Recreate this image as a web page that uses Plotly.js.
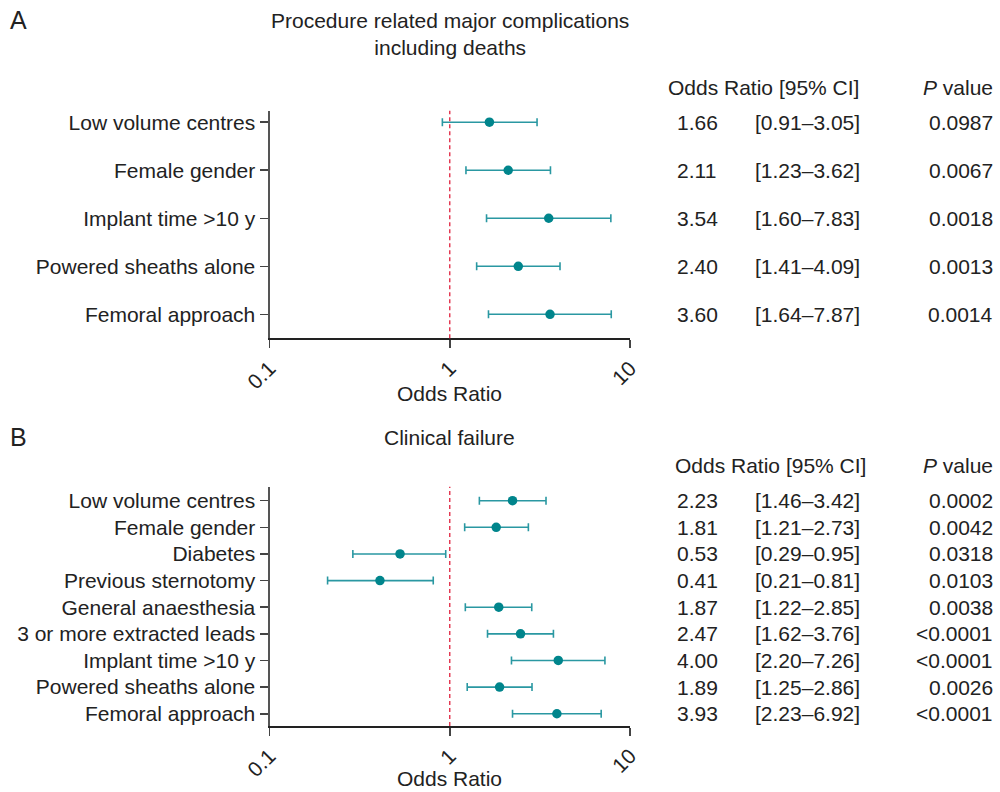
<!DOCTYPE html>
<html>
<head>
<meta charset="utf-8">
<script src="https://cdn.plot.ly/plotly-3.0.1.min.js"></script>
<style>html,body{margin:0;padding:0;background:#fff;}#chart{width:1000px;height:792px;}</style>
</head>
<body>
<div id="chart"></div>
<script>
// ---- Panel A data ----
const labelsA = ["Low volume centres", "Female gender", "Implant time >10 y", "Powered sheaths alone", "Femoral approach"];
const orA = [1.66, 2.11, 3.54, 2.40, 3.60];
const loA = [0.91, 1.23, 1.60, 1.41, 1.64];
const hiA = [3.05, 3.62, 7.83, 4.09, 7.87];
const pA = ["0.0987", "0.0067", "0.0018", "0.0013", "0.0014"];

// ---- Panel B data ----
const labelsB = ["Low volume centres", "Female gender", "Diabetes", "Previous sternotomy", "General anaesthesia",
  "3 or more extracted leads", "Implant time >10 y", "Powered sheaths alone", "Femoral approach"];
const orB = [2.23, 1.81, 0.53, 0.41, 1.87, 2.47, 4.00, 1.89, 3.93];
const loB = [1.46, 1.21, 0.29, 0.21, 1.22, 1.62, 2.20, 1.25, 2.23];
const hiB = [3.42, 2.73, 0.95, 0.81, 2.85, 3.76, 7.26, 2.86, 6.92];
const pB = ["0.0002", "0.0042", "0.0318", "0.0103", "0.0038", "<0.0001", "<0.0001", "0.0026", "<0.0001"];

const xTicks = [0.1, 1, 10];
const xTickText = ["0.1", "1", "10"];
const refOR = 1;

const FONT = "Liberation Sans, Arial, sans-serif";
const TXT = "#222";
const DOT = "#00858c";
const ERR = "#2a98a2";

function rows(n) { return Array.from({length: n}, (_, i) => i + 1); }

function forestTrace(or, lo, hi, xa, ya) {
  return {
    type: "scatter", mode: "markers", xaxis: xa, yaxis: ya,
    x: or, y: rows(or.length),
    marker: {color: DOT, size: 9.5},
    error_x: {type: "data", symmetric: false,
      array: hi.map((h, i) => h - or[i]),
      arrayminus: lo.map((l, i) => or[i] - l),
      color: ERR, thickness: 1.6, width: 4},
    hoverinfo: "x+y", showlegend: false
  };
}

const data = [
  forestTrace(orA, loA, hiA, "x", "y"),
  forestTrace(orB, loB, hiB, "x2", "y2")
];

function xAxis(anchor) {
  return {
    type: "log", range: [-1, 1], domain: [0.2695, 0.630], anchor: anchor,
    tickmode: "array", tickvals: xTicks, ticktext: xTickText, tickangle: -45,
    ticks: "outside", ticklen: 8, tickwidth: 1.5, tickcolor: "#444",
    showline: true, linecolor: "#222", linewidth: 1.5,
    showgrid: false, zeroline: false,
    tickfont: {family: FONT, size: 21, color: TXT}
  };
}
function yAxis(domain, labels, range, anchor) {
  return {
    domain: domain, anchor: anchor, range: range,
    tickmode: "array", tickvals: rows(labels.length), ticktext: labels,
    ticks: "outside", ticklen: 8, tickwidth: 1.5, tickcolor: "#444",
    showline: true, linecolor: "#555", linewidth: 2,
    showgrid: false, zeroline: false,
    tickfont: {family: FONT, size: 21, color: TXT}
  };
}

const annotations = [];
function addTable(or, lo, hi, p, yref, headerY, headerX) {
  const f = {family: FONT, size: 21, color: TXT};
  annotations.push({xref: "paper", yref: "paper", x: headerX, y: headerY, xanchor: "left", yanchor: "middle",
    text: "Odds Ratio [95% CI]", showarrow: false, font: f});
  annotations.push({xref: "paper", yref: "paper", x: 0.995, y: headerY, xanchor: "right", yanchor: "middle",
    text: "<i>P</i> value", showarrow: false, font: f});
  or.forEach((v, i) => {
    annotations.push({xref: "paper", yref: yref, x: 0.675, y: i + 1, xanchor: "left", yanchor: "middle",
      text: v.toFixed(2), showarrow: false, font: f});
    annotations.push({xref: "paper", yref: yref, x: 0.753, y: i + 1, xanchor: "left", yanchor: "middle",
      text: "[" + lo[i].toFixed(2) + "\u2013" + hi[i].toFixed(2) + "]", showarrow: false, font: f});
    annotations.push({xref: "paper", yref: yref, x: 0.995, y: i + 1, xanchor: "right", yanchor: "middle",
      text: p[i], showarrow: false, font: f});
  });
}
addTable(orA, loA, hiA, pA, "y", 1 - 87 / 792, 0.666);
addTable(orB, loB, hiB, pB, "y2", 1 - 465 / 792, 0.673);

// axis titles
[["x", 393], ["x2", 778]].forEach(([xr, yy]) => {
  annotations.push({xref: xr + " domain", yref: "paper", x: 0.5, y: 1 - yy / 792, xanchor: "center", yanchor: "middle",
    text: "Odds Ratio", showarrow: false, font: {family: FONT, size: 21, color: TXT}});
});

// panel titles & letters
annotations.push({xref: "x domain", yref: "paper", x: 0.5, y: 1 - 34 / 792, xanchor: "center", yanchor: "middle",
  text: "Procedure related major complications<br>including deaths", showarrow: false,
  font: {family: FONT, size: 21, color: TXT}});
annotations.push({xref: "x2 domain", yref: "paper", x: 0.5, y: 1 - 438 / 792, xanchor: "center", yanchor: "middle",
  text: "Clinical failure", showarrow: false, font: {family: FONT, size: 21, color: TXT}});
annotations.push({xref: "paper", yref: "paper", x: 0.008, y: 1 - 20 / 792, xanchor: "left", yanchor: "middle",
  text: "A", showarrow: false, font: {family: FONT, size: 25, color: TXT}});
annotations.push({xref: "paper", yref: "paper", x: 0.008, y: 1 - 437 / 792, xanchor: "left", yanchor: "middle",
  text: "B", showarrow: false, font: {family: FONT, size: 25, color: TXT}});

const refLine = (xr, yr) => ({type: "line", xref: xr, yref: yr + " domain", x0: refOR, x1: refOR, y0: 0, y1: 1,
  line: {color: "#e2304a", width: 1.4, dash: "4px,3px"}});

const layout = {
  width: 1000, height: 792,
  margin: {l: 0, r: 0, t: 0, b: 0},
  paper_bgcolor: "#fff", plot_bgcolor: "#fff",
  font: {family: FONT, size: 21, color: TXT},
  xaxis: xAxis("y"),
  yaxis: yAxis([1 - 338.3 / 792, 1 - 110.7 / 792], labelsA, [5.5, 0.76], "x"),
  xaxis2: xAxis("y2"),
  yaxis2: yAxis([1 - 726 / 792, 1 - 486.7 / 792], labelsB, [9.46, 0.475], "x2"),
  shapes: [refLine("x", "y"), refLine("x2", "y2")],
  annotations: annotations,
  showlegend: false
};

Plotly.newPlot("chart", data, layout, {displayModeBar: false, staticPlot: true});
</script>
</body>
</html>
